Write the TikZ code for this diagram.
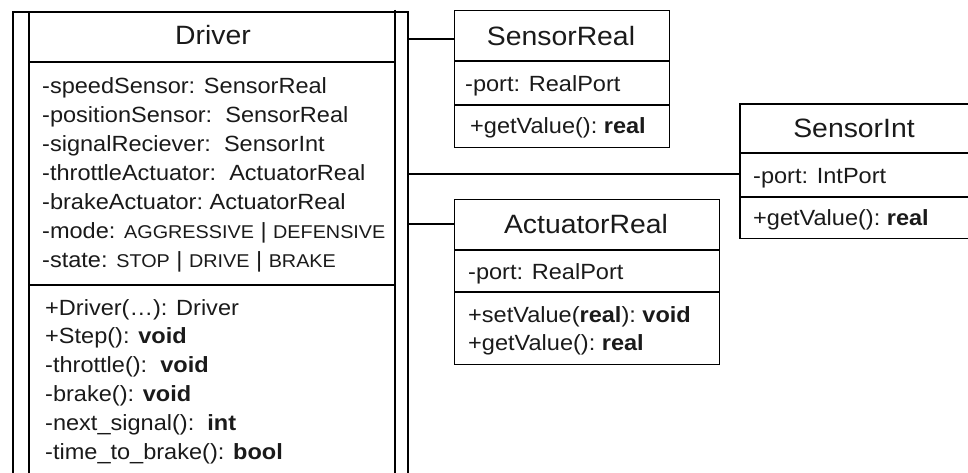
\documentclass[tikz,border=0pt]{standalone}
\usepackage{fontspec}
\setmainfont{Liberation Sans}[FakeStretch=1.07]
\definecolor{txt}{HTML}{1A1A1A}
\begin{document}
\begin{tikzpicture}[x=1pt,y=-1pt,
  ln/.style={line width=1.3pt, draw=black},
  box/.style={ln, rectangle, anchor=north west, inner sep=0pt},
  title/.style={font=\fontsize{26.5}{30}\selectfont, text=txt, inner sep=0pt, anchor=base},
  mem/.style={font=\fontsize{22}{26}\selectfont, text=txt, inner sep=0pt, anchor=base west},
]
\useasboundingbox (0,0) rectangle (968,473);
\newcommand{\sm}[1]{{\fontsize{18.5}{20}\selectfont #1}}
\newcommand{\vb}{\ |\ }

% ---------------- Driver ----------------
\coordinate (drTL) at (13,12);
\coordinate (drTR) at (408,12);
\coordinate (drBL) at (13,473);
\coordinate (drBR) at (408,473);
\coordinate (drIL) at (29,12);
\coordinate (drIR) at (395,10);
\draw[ln] (drBL) -- (drTL) -- (drTR) -- (drBR);
\draw[ln] (drIL) -- (29,473);
\draw[ln] (drIR) -- (395,473);
\draw[ln] (29,62) -- (395,62);
\draw[ln] (29,285) -- (395,285);
\node[title] (drT) at (213,45) {Driver};
\foreach \t [count=\i from 0] in {
  {-speedSensor: SensorReal},
  {-positionSensor:\ \ SensorReal},
  {-signalReciever:\ \ SensorInt},
  {-throttleActuator:\ \ ActuatorReal},
  {-brakeActuator:\ ActuatorReal},
  {-mode: \sm{AGGRESSIVE}\vb\sm{DEFENSIVE}},
  {-state: \sm{STOP}\vb\sm{DRIVE}\vb\sm{BRAKE}}}
  \node[mem] (da\i) at (42, 93.3+29.07*\i) {\t};
\foreach \t [count=\i from 0] in {
  {+Driver(\ldots): Driver},
  {+Step(): \textbf{void}},
  {-throttle():\ \ \textbf{void}},
  {-brake(): \textbf{void}},
  {-next\_signal():\ \ \textbf{int}},
  {-time\_to\_brake(): \textbf{bool}}}
  \node[mem] (dm\i) at (45, 315+28.9*\i) {\t};

% ---------------- SensorReal ----------------
\node[box, minimum width=215pt, minimum height=137pt] (sr) at (454,10) {};
\draw[ln] (454,61) -- (669,61);
\draw[ln] (454,105) -- (669,105);
\node[title] (srT) at (561,46) {SensorReal};
\node[mem] (sra) at (465,92) {-port: RealPort};
\node[mem] (srm) at (470,134) {+getValue():\ \textbf{real}};

% ---------------- SensorInt ----------------
\node[anchor=north west, inner sep=0pt, minimum width=228pt, minimum height=134pt] (si) at (740,104) {};
\draw[ln] (si.north east) -- (si.north west) -- (si.south west) -- (si.south east);
\draw[ln] (740,153) -- (968,153);
\draw[ln] (740,197) -- (968,197);
\node[title] (siT) at (854,138) {SensorInt};
\node[mem] (sia) at (753,183) {-port: IntPort};
\node[mem] (sim) at (753,225) {+getValue():\ \textbf{real}};

% ---------------- ActuatorReal ----------------
\node[box, minimum width=265pt, minimum height=165pt] (ar) at (454,199) {};
\draw[ln] (454,250) -- (719,250);
\draw[ln] (454,292) -- (719,292);
\node[title] (arT) at (586,233) {ActuatorReal};
\node[mem] (ara) at (468,279) {-port: RealPort};
\node[mem] (arm1) at (468,322) {+setValue(\textbf{real}):\ \textbf{void}};
\node[mem] (arm2) at (468,350) {+getValue():\ \textbf{real}};

% ---------------- connectors ----------------
\coordinate (c1) at (408,39);
\coordinate (c2) at (408,174);
\coordinate (c3) at (408,224);
\draw[ln] (c1) -- (sr.west |- c1);
\draw[ln] (c2) -- (si.west |- c2);
\draw[ln] (c3) -- (ar.west |- c3);
\end{tikzpicture}
\end{document}
